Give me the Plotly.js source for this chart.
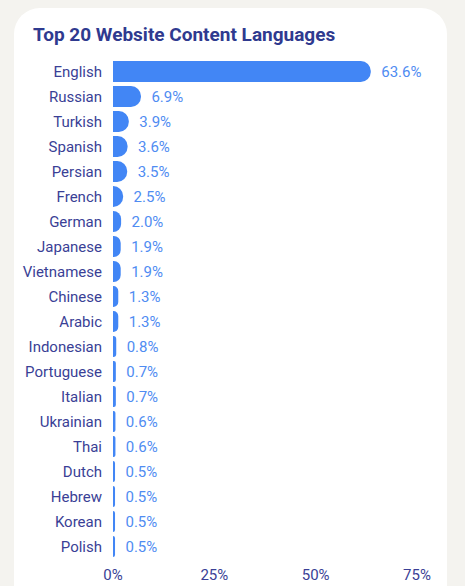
<!DOCTYPE html>
<html>
<head>
<meta charset="utf-8">
<script src="https://cdn.plot.ly/plotly-3.0.1.min.js"></script>
<style>
  html, body { margin:0; padding:0; width:465px; height:586px; background:#f4f3ef; overflow:hidden; }
  #card { position:absolute; left:14px; top:8px; width:433px; height:640px; background:#ffffff; border-radius:26px; }
  #chart { position:absolute; left:0; top:0; width:465px; height:586px; }
</style>
</head>
<body>
<div id="card"></div>
<div id="chart"></div>
<script>
const languages = ["English","Russian","Turkish","Spanish","Persian","French","German","Japanese","Vietnamese","Chinese","Arabic","Indonesian","Portuguese","Italian","Ukrainian","Thai","Dutch","Hebrew","Korean","Polish"];
const shares = [63.6,6.9,3.9,3.6,3.5,2.5,2.0,1.9,1.9,1.3,1.3,0.8,0.7,0.7,0.6,0.6,0.5,0.5,0.5,0.5];
const xTicks = [0,25,50,75];
const xTickLabels = ["0%","25%","50%","75%"];

const labelColor = "#3a3f96";
const titleColor = "#2f3a8f";
const barColor = "#4286f5";
const valueColor = "#4f8cf2";

const trace = {
  type: "bar",
  orientation: "h",
  y: languages,
  x: shares,
  marker: { color: barColor },
  text: shares.map(v => "\u00a0\u00a0" + v.toFixed(1) + "%"),
  textposition: "outside",
  textfont: { family: "Roboto, sans-serif", size: 15, color: valueColor },
  constraintext: "none",
  cliponaxis: false,
  hoverinfo: "skip"
};

const layout = {
  width: 465,
  height: 586,
  margin: { l: 113, r: 48, t: 59, b: 27 },
  paper_bgcolor: "rgba(0,0,0,0)",
  plot_bgcolor: "rgba(0,0,0,0)",
  bargap: 0.16,
  barcornerradius: 11,
  showlegend: false,
  font: { family: "Roboto, sans-serif", size: 15, color: labelColor },
  title: {
    text: "<b>Top 20 Website Content Languages</b>",
    font: { family: "Roboto, sans-serif", size: 19, color: titleColor },
    xref: "container", x: 33/465, xanchor: "left",
    yref: "container", y: 1 - 34/586, yanchor: "middle"
  },
  xaxis: {
    range: [0, 75],
    tickvals: xTicks,
    ticktext: xTickLabels,
    showgrid: false,
    zeroline: false,
    showline: false,
    ticks: "",
    ticklabelstandoff: 5,
    tickfont: { family: "Roboto, sans-serif", size: 15, color: labelColor },
    fixedrange: true
  },
  yaxis: {
    autorange: "reversed",
    showgrid: false,
    zeroline: false,
    showline: false,
    ticks: "",
    ticklabelstandoff: 10,
    tickfont: { family: "Roboto, sans-serif", size: 15, color: labelColor },
    fixedrange: true
  }
};

Plotly.newPlot("chart", [trace], layout, { displayModeBar: false, staticPlot: true });
</script>
</body>
</html>
